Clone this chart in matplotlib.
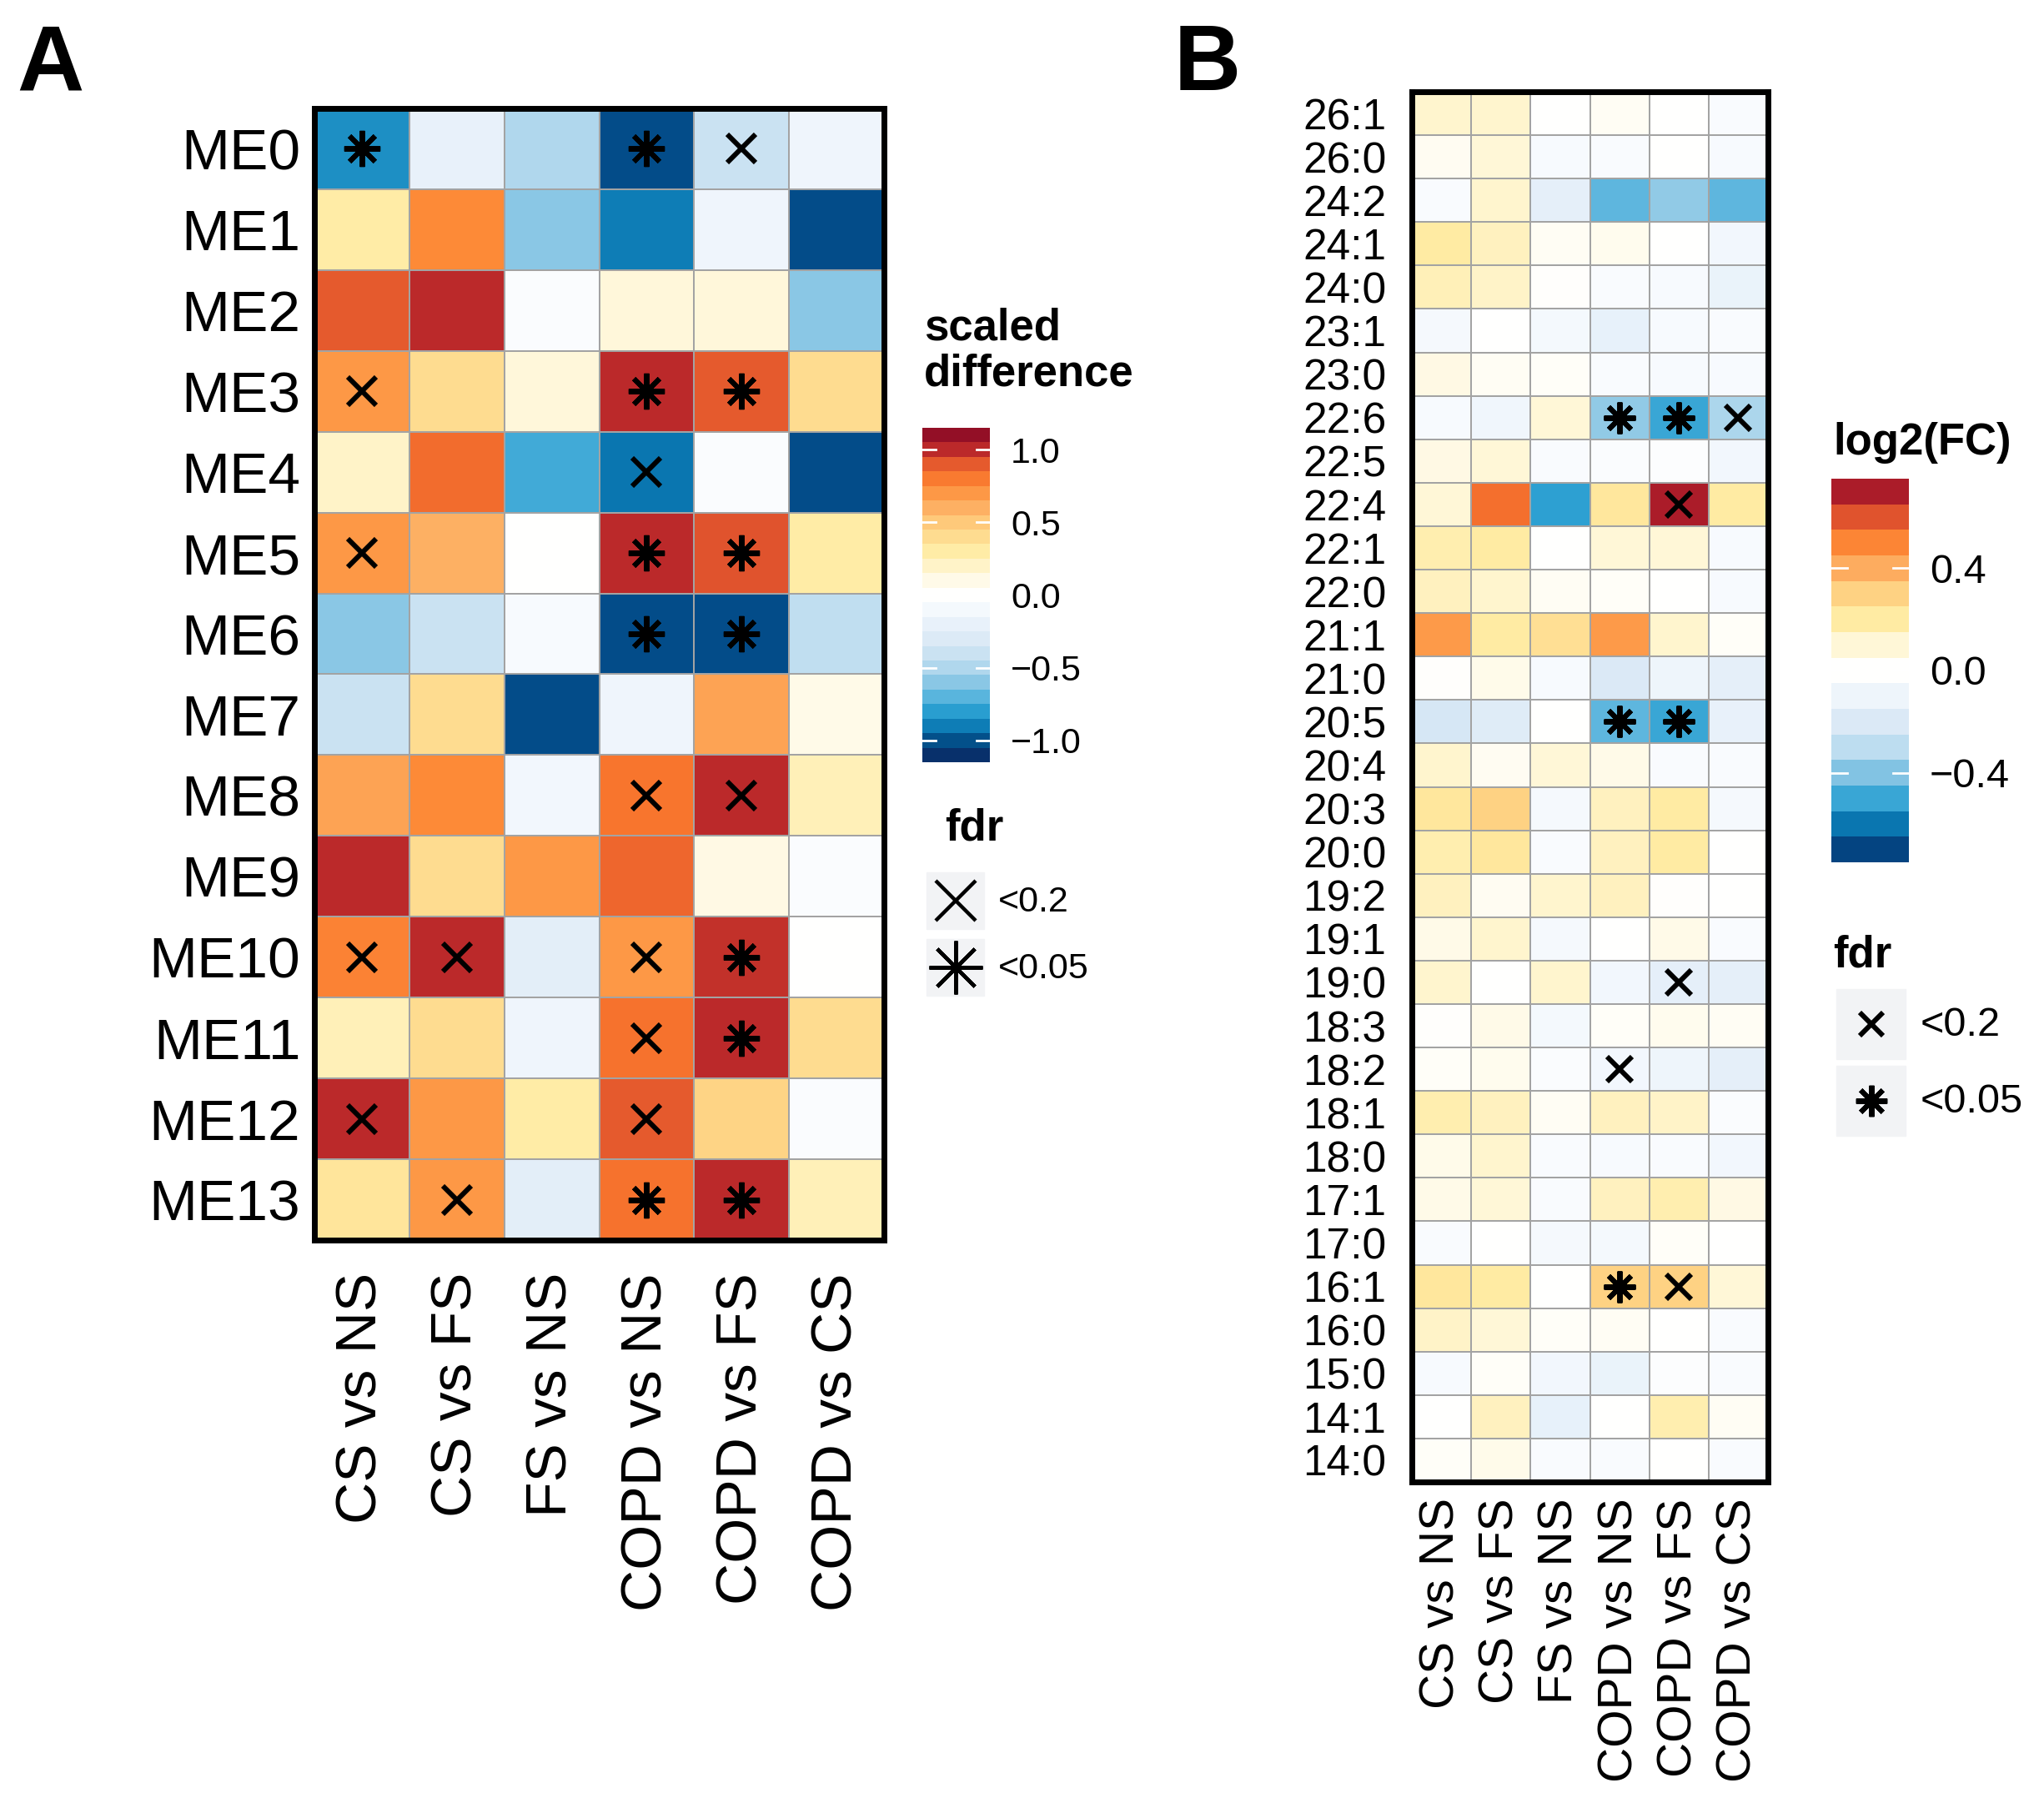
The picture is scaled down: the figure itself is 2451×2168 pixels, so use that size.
import numpy as np
import matplotlib
matplotlib.use("Agg")
import matplotlib.pyplot as plt
from matplotlib.colors import LinearSegmentedColormap, Normalize
from matplotlib.patches import Rectangle

plt.rcParams['font.family'] = ['Liberation Sans', 'DejaVu Sans']

# ---------------- data: panel A ----------------
comparisons = ["CS vs NS", "CS vs FS", "FS vs NS", "COPD vs NS", "COPD vs FS", "COPD vs CS"]
modules = ["ME0", "ME1", "ME2", "ME3", "ME4", "ME5", "ME6", "ME7", "ME8", "ME9",
           "ME10", "ME11", "ME12", "ME13"]
scaled_diff = [
    [-0.85, -0.20, -0.50, -1.05, -0.40, -0.15],
    [0.30, 0.75, -0.60, -0.90, -0.15, -1.05],
    [0.90, 1.00, -0.05, 0.15, 0.15, -0.60],
    [0.70, 0.40, 0.15, 1.00, 0.90, 0.40],
    [0.20, 0.85, -0.75, -0.92, -0.05, -1.05],
    [0.70, 0.60, 0.00, 1.00, 0.92, 0.30],
    [-0.60, -0.40, -0.08, -1.05, -1.05, -0.45],
    [-0.40, 0.40, -1.05, -0.15, 0.65, 0.10],
    [0.65, 0.75, -0.12, 0.82, 1.00, 0.25],
    [1.00, 0.40, 0.70, 0.87, 0.12, -0.05],
    [0.78, 1.00, -0.25, 0.70, 0.98, 0.00],
    [0.25, 0.40, -0.15, 0.83, 1.00, 0.40],
    [1.00, 0.70, 0.30, 0.90, 0.45, -0.05],
    [0.35, 0.70, -0.25, 0.83, 1.00, 0.25],
]
fdr_A = [
    ["*", "", "", "*", "x", ""],
    ["", "", "", "", "", ""],
    ["", "", "", "", "", ""],
    ["x", "", "", "*", "*", ""],
    ["", "", "", "x", "", ""],
    ["x", "", "", "*", "*", ""],
    ["", "", "", "*", "*", ""],
    ["", "", "", "", "", ""],
    ["", "", "", "x", "x", ""],
    ["", "", "", "", "", ""],
    ["x", "x", "", "x", "*", ""],
    ["", "", "", "x", "*", ""],
    ["x", "", "", "x", "", ""],
    ["", "x", "", "*", "*", ""],
]
ticks_A = [1.0, 0.5, 0.0, -0.5, -1.0]

# ---------------- data: panel B ----------------
lipids = ["26:1", "26:0", "24:2", "24:1", "24:0", "23:1", "23:0", "22:6", "22:5", "22:4",
          "22:1", "22:0", "21:1", "21:0", "20:5", "20:4", "20:3", "20:0", "19:2", "19:1",
          "19:0", "18:3", "18:2", "18:1", "18:0", "17:1", "17:0", "16:1", "16:0", "15:0",
          "14:1", "14:0"]
log2fc = [
    [0.12, 0.12, 0.00, 0.03, 0.00, -0.04],
    [0.04, 0.10, -0.05, -0.04, 0.00, -0.05],
    [-0.04, 0.12, -0.15, -0.45, -0.38, -0.45],
    [0.20, 0.15, 0.03, 0.05, 0.00, -0.08],
    [0.16, 0.13, 0.01, -0.04, -0.05, -0.12],
    [-0.06, 0.00, -0.07, -0.14, -0.05, -0.04],
    [0.08, 0.03, 0.02, -0.04, -0.05, -0.05],
    [-0.05, -0.09, 0.10, -0.38, -0.50, -0.33],
    [0.08, 0.10, -0.04, -0.03, -0.02, -0.08],
    [0.10, 0.55, -0.52, 0.22, 0.70, 0.20],
    [0.18, 0.20, 0.00, 0.10, 0.10, -0.05],
    [0.15, 0.12, 0.03, 0.02, 0.00, -0.05],
    [0.45, 0.20, 0.25, 0.45, 0.12, 0.02],
    [0.01, 0.06, -0.05, -0.20, -0.10, -0.15],
    [-0.22, -0.18, 0.00, -0.45, -0.50, -0.13],
    [0.12, 0.04, 0.10, 0.07, -0.04, -0.04],
    [0.22, 0.30, -0.06, 0.15, 0.20, -0.06],
    [0.18, 0.22, -0.04, 0.15, 0.20, 0.00],
    [0.15, 0.04, 0.12, 0.15, 0.01, 0.00],
    [0.07, 0.12, -0.06, 0.00, 0.07, -0.04],
    [0.12, 0.00, 0.12, -0.08, -0.15, -0.15],
    [0.01, 0.07, -0.07, 0.02, 0.05, 0.03],
    [0.02, 0.05, -0.03, -0.08, -0.10, -0.15],
    [0.18, 0.15, 0.03, 0.15, 0.13, -0.03],
    [0.06, 0.12, -0.04, -0.05, -0.04, -0.08],
    [0.07, 0.10, -0.04, 0.15, 0.18, 0.08],
    [-0.04, 0.00, -0.06, -0.07, 0.02, 0.00],
    [0.22, 0.20, 0.00, 0.30, 0.30, 0.10],
    [0.13, 0.10, 0.02, 0.03, 0.00, -0.04],
    [-0.05, 0.02, -0.08, -0.12, -0.02, -0.04],
    [0.00, 0.15, -0.14, 0.00, 0.18, 0.03],
    [0.02, 0.06, -0.04, -0.04, 0.00, -0.04],
]
fdr_B = {"22:6": ["", "", "", "*", "*", "x"],
         "22:4": ["", "", "", "", "x", ""],
         "20:5": ["", "", "", "*", "*", ""],
         "19:0": ["", "", "", "", "x", ""],
         "18:2": ["", "", "", "x", "", ""],
         "16:1": ["", "", "", "*", "x", ""]}
ticks_B = [0.4, 0.0, -0.4]

# ---------------- colour scale ----------------
neg = [(0.0, '#ffffff'), (0.1, '#f3f8fd'), (0.27, '#dbe9f6'), (0.4, '#bfdef0'),
       (0.53, '#86c5e4'), (0.62, '#52b2dc'), (0.7, '#2a9fd1'), (0.8, '#0a78b2'),
       (0.87, '#03508a'), (0.93, '#034b88'), (0.96, '#08306b'), (1.0, '#08306b')]
pos = [(0.0, '#ffffff'), (0.1, '#fffae6'), (0.27, '#ffeba3'), (0.4, '#fed384'),
       (0.53, '#fdae61'), (0.65, '#fd8c38'), (0.72, '#f8742d'), (0.8, '#e2552d'),
       (0.87, '#bc2a2a'), (0.93, '#b2202a'), (0.96, '#930f26'), (1.0, '#800a26')]
anchors = [((1 - f) / 2, c) for f, c in neg[::-1]] + [((1 + f) / 2, c) for f, c in pos[1:]]
cmap = LinearSegmentedColormap.from_list("bluered", anchors)

W, H = 2451, 2168
fig = plt.figure(figsize=(W / 100, H / 100), dpi=100)


def px_axes(x0, y0, x1, y1):
    return fig.add_axes([x0 / W, 1 - y1 / H, (x1 - x0) / W, (y1 - y0) / H])


def heatmap(ax, vals, rows, cols, sig, lim, row_fs, col_fs, row_pad, col_pad, msize):
    vals = np.array(vals)
    norm = Normalize(-lim, lim)
    ax.pcolormesh(vals, cmap=cmap, norm=norm, edgecolors='#a3a3a3', linewidth=1.4)
    ax.set_xlim(0, len(cols))
    ax.set_ylim(len(rows), 0)
    ax.set_xticks(np.arange(len(cols)) + 0.5)
    ax.set_xticklabels(cols, rotation=90, fontsize=col_fs)
    ax.set_yticks(np.arange(len(rows)) + 0.5)
    ax.set_yticklabels(rows, fontsize=row_fs)
    ax.tick_params(length=0)
    ax.tick_params(axis='y', pad=row_pad)
    ax.tick_params(axis='x', pad=col_pad)
    for s in ax.spines.values():
        s.set_linewidth(5)
    for i, row in enumerate(sig):
        for j, m in enumerate(row):
            if m == "x":
                ax.plot(j + 0.5, i + 0.5, marker='x', color='black', ms=msize, mew=4.3)
            elif m == "*":
                ax.plot(j + 0.5, i + 0.5, marker=(8, 2, 0), color='black', ms=msize * 1.3, mew=4.3)


def colorbar(ax, lim, ticks, fs):
    edges = np.round(np.arange(-lim, lim + 0.001, 0.1), 3)
    centers = (edges[:-1] + edges[1:]) / 2
    ax.pcolormesh([0, 1], edges, centers[:, None], cmap=cmap, norm=Normalize(-lim, lim))
    ax.set_xlim(0, 1)
    ax.set_ylim(-lim, lim)
    for t in ticks:
        ax.plot([0, 0.2], [t, t], color='white', lw=2)
        ax.plot([0.8, 1], [t, t], color='white', lw=2)
    ax.set_xticks([])
    ax.yaxis.tick_right()
    ax.set_yticks(ticks)
    ax.set_yticklabels([f"{t:.1f}".replace("-", "\u2212") for t in ticks], fontsize=fs)
    ax.tick_params(axis='y', length=0, pad=18)
    for s in ax.spines.values():
        s.set_visible(False)


# panel A
axA = px_axes(377, 130, 1060, 1487)
heatmap(axA, scaled_diff, modules, comparisons, fdr_A, 1.15, 50, 50, 12, 28, 24)
cbA = px_axes(1106, 513, 1187, 914)
colorbar(cbA, 1.15, ticks_A, 31)

# panel B
sigB = [fdr_B.get(l, [""] * 6) for l in lipids]
axB = px_axes(1693, 110, 2120, 1777)
heatmap(axB, log2fc, lipids, comparisons, sigB, 0.75, 37, 42, 22, 14, 21)
cbB = px_axes(2196, 574, 2289, 1034)
colorbar(cbB, 0.75, ticks_B, 35)

# overlay for labels and fdr legends (pixel coordinates)
ov = fig.add_axes([0, 0, 1, 1])
ov.set_xlim(0, W)
ov.set_ylim(H, 0)
ov.axis('off')

ov.text(20, 108, "A", fontsize=80, fontweight='bold', va='baseline')
ov.text(1408, 108, "B", fontsize=80, fontweight='bold', va='baseline')

ov.text(1108, 368, "scaled\ndifference", fontsize=38, fontweight='bold', va='top',
        linespacing=1.15)
ov.text(1133, 968, "fdr", fontsize=38, fontweight='bold', va='top')
for y0, m, lab, ms in [(1046, 'x', "<0.2", 34), (1126, (8, 2, 0), "<0.05", 46)]:
    ov.add_patch(Rectangle((1111, y0), 69, 68, color='#f2f3f5', zorder=1))
    ov.plot(1145.5, y0 + 34, marker=m, color='black', ms=ms, mew=3.2, zorder=2)
    ov.text(1197, y0 + 36, lab, fontsize=31, va='center')

ov.text(2198, 506, "log2(FC)", fontsize=38, fontweight='bold', va='top')
ov.text(2198, 1120, "fdr", fontsize=38, fontweight='bold', va='top')
for y0, m, lab, ms in [(1186, 'x', "<0.2", 20), (1278, (8, 2, 0), "<0.05", 27)]:
    ov.add_patch(Rectangle((2202, y0), 83, 84, color='#f2f3f5', zorder=1))
    ov.plot(2243.5, y0 + 42, marker=m, color='black', ms=ms, mew=4.3, zorder=2)
    ov.text(2303, y0 + 44, lab, fontsize=35, va='center')

fig.savefig("out.png", dpi=100)
